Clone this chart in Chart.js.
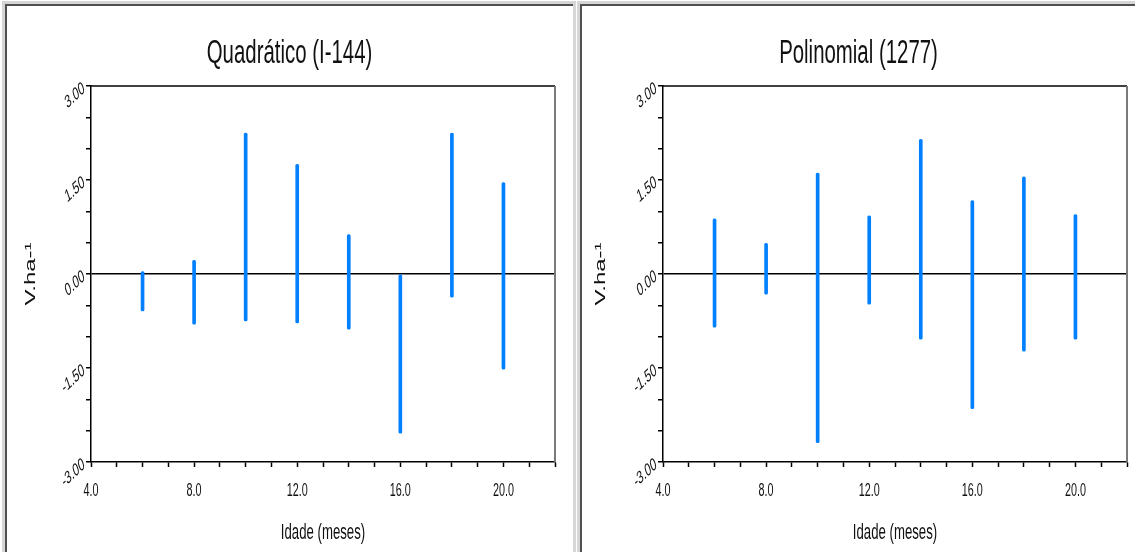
<!DOCTYPE html>
<html>
<head>
<meta charset="utf-8">
<script src="https://cdn.jsdelivr.net/npm/chart.js@4.4.1/dist/chart.umd.min.js"></script>
<style>
  body { margin: 0; background: #fff; overflow: hidden; }
  .panel { position: absolute; top: 1px; height: 620px; box-sizing: border-box; border: 3px solid #d6d6d6; }
  .inner { position: absolute; left: 0; top: 0; right: 0; bottom: 0; border-top: 2px solid #505050; border-left: 2px solid #505050; }
  canvas { position: absolute; left: 0; top: 0; }
</style>
</head>
<body>
<div class="panel" style="left:2px; width:574px;"><div class="inner"><canvas id="quad" width="565" height="546"></canvas></div></div>
<div class="panel" style="left:577px; width:600px;"><div class="inner"><canvas id="poly" width="553" height="546"></canvas></div></div>
<script>
// idade (meses) e faixa dos resíduos em cada idade
const ages = [6, 8, 10, 12, 14, 16, 18, 20];
const quadLow  = [-0.59, -0.80, -0.75, -0.78, -0.88, -2.54, -0.37, -1.52];
const quadHigh = [ 0.04,  0.22,  2.25,  1.75,  0.63,  0.00,  2.25,  1.46];
const polyLow  = [-0.85, -0.32, -2.69, -0.48, -1.04, -2.15, -1.23, -1.04];
const polyHigh = [ 0.88,  0.49,  1.61,  0.93,  2.15,  1.17,  1.55,  0.95];

const xLabels = [4, 8, 12, 16, 20];
const yLabels = [-3, -1.5, 0, 1.5, 3];

const SQUISH = 0.6;
const FONT = '"Liberation Sans", Arial, sans-serif';

function narrowText(ctx, text, x, y, size, opts) {
  ctx.save();
  ctx.translate(x, y);
  ctx.scale(SQUISH, 1);
  if (opts.rotate) ctx.rotate(opts.rotate);
  ctx.font = size + 'px ' + FONT;
  ctx.fillStyle = '#111';
  ctx.textAlign = opts.align || 'center';
  ctx.textBaseline = opts.baseline || 'alphabetic';
  ctx.fillText(text, 0, 0);
  ctx.restore();
}

const textPlugin = {
  id: 'narrowLabels',
  afterDraw(chart, args, o) {
    const { ctx, chartArea: a, scales: { x, y } } = chart;

    // moldura do gráfico
    ctx.save();
    ctx.lineWidth = 1.5;
    ctx.strokeStyle = '#000';
    ctx.beginPath();
    ctx.moveTo(a.left, a.top);
    ctx.lineTo(a.right, a.top);
    ctx.stroke();
    ctx.strokeStyle = '#7a7a7a';
    ctx.lineWidth = 2;
    ctx.beginPath();
    ctx.moveTo(a.right, a.top);
    ctx.lineTo(a.right, a.bottom);
    ctx.stroke();
    ctx.restore();

    x.ticks.forEach(t => {
      if (xLabels.includes(t.value))
        narrowText(ctx, t.value.toFixed(1), x.getPixelForValue(t.value), a.bottom + 34, 18, {});
    });
    y.ticks.forEach(t => {
      if (yLabels.includes(t.value))
        narrowText(ctx, t.value.toFixed(2), a.left - 7, y.getPixelForValue(t.value) + 1, 18,
          { align: 'right', baseline: 'middle', rotate: -Math.PI / 6 });
    });

    narrowText(ctx, o.title, chart.width / 2, 57, 34, {});
    narrowText(ctx, 'Idade (meses)', (a.left + a.right) / 2, a.bottom + 77, 22, {});
    narrowText(ctx, 'V.ha-¹', o.yTitleX, (a.top + a.bottom) / 2, 24,
      { baseline: 'middle', rotate: -Math.PI / 2 });
  }
};

function residualChart(id, title, low, high, yWidth, padRight, yTitleX) {
  return new Chart(document.getElementById(id), {
    type: 'bar',
    data: {
      datasets: [{
        data: ages.map((a, i) => ({ x: a, y: [low[i], high[i]] })),
        backgroundColor: 'rgb(0,128,255)',
        barThickness: 3,
        borderSkipped: false,
        borderRadius: 1.5
      }]
    },
    options: {
      responsive: false,
      animation: false,
      layout: { padding: { left: 0, top: 80, right: padRight, bottom: 50 } },
      plugins: {
        legend: { display: false },
        tooltip: { enabled: false },
        narrowLabels: { title: title, yTitleX: yTitleX }
      },
      scales: {
        x: {
          type: 'linear',
          min: 4, max: 22,
          offset: false,
          ticks: { stepSize: 1, display: false },
          grid: { offset: false, drawOnChartArea: false, tickLength: 5, tickColor: '#000', tickWidth: 1.5 },
          border: { color: '#000', width: 1.5 },
          afterFit: s => { s.height = 40; }
        },
        y: {
          min: -3, max: 3,
          ticks: { stepSize: 0.5, display: false },
          grid: {
            color: c => c.tick && c.tick.value === 0 ? '#000' : 'rgba(0,0,0,0)',
            lineWidth: 1.5,
            tickLength: 5, tickColor: '#000', tickWidth: 1.5
          },
          border: { color: '#000', width: 1.5 },
          afterFit: s => { s.width = yWidth; }
        }
      }
    },
    plugins: [textPlugin]
  });
}

residualChart('quad', 'Quadrático (I-144)', quadLow, quadHigh, 84, 17, 24);
residualChart('poly', 'Polinomial (1277)', polyLow, polyHigh, 81, 8, 19);
</script>
</body>
</html>
